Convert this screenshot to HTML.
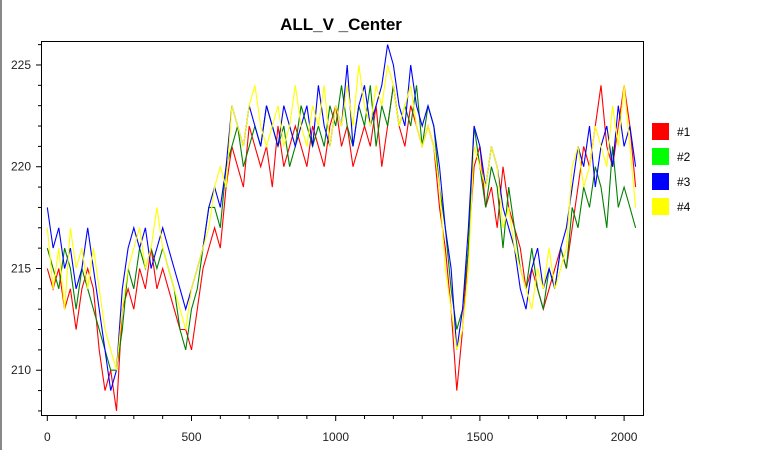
<!DOCTYPE html>
<html><head><meta charset="utf-8"><style>
body{margin:0;background:#fff;width:758px;height:450px;overflow:hidden;font-family:"Liberation Sans",sans-serif}
</style></head><body>
<svg id="chart" width="758" height="450" xmlns="http://www.w3.org/2000/svg">
<rect x="0" y="0" width="2" height="450" fill="#888"/>
<text x="341" y="30" text-anchor="middle" font-size="17" font-weight="bold" fill="#000">ALL_V _Center</text>
<g id="plot"></g>
<rect x="41.5" y="41.5" width="602" height="374" fill="none" stroke="#000" stroke-width="1"/>
<g id="axes"></g>
<g id="legend"></g>
</svg>
<script>
const seriesNames=["#1","#2","#3","#4"];
const seriesColors=["#ff0000","#008000","#0000ff","#ffff00"];
const legendColors=["#ff0000","#00ff00","#0000ff","#ffff00"];
const xStep=20;
const xTicks=[0,500,1000,1500,2000];
const yTicks=[210,215,220,225];
const s1=[215,214,215,213,214,212,214,215,214,211,209,210,208,213,214,213,215,214,216,214,215,214,213,212,212,211,213,215,216,217,216,219,221,220,219,222,221,220,221,219,222,220,221,222,221,220,222,221,220,222,223,221,222,220,221,222,221,223,220,222,224,222,221,223,222,221,222,221,218,216,213,209,212,216,220,221,218,219,217,220,218,217,216,214,215,214,213,214,215,216,215,217,219,221,220,222,224,221,220,222,224,222,219];
const s2=[216,215,214,216,215,213,215,214,213,212,211,210,210,212,215,214,216,215,216,215,216,215,214,212,211,213,214,216,218,218,217,220,221,222,220,221,222,221,223,222,221,222,220,221,223,222,221,222,221,223,222,224,222,221,223,222,224,221,223,222,224,222,223,222,224,221,223,222,219,217,214,212,213,216,222,220,218,220,219,216,219,217,215,214,216,214,213,215,214,216,215,218,217,219,218,220,219,217,221,218,219,218,217];
const s3=[218,216,217,215,216,214,215,217,215,213,211,209,210,214,216,217,216,217,215,216,217,216,215,214,213,214,215,216,218,219,218,220,223,222,221,223,222,221,223,222,221,223,222,221,222,223,221,224,222,221,223,222,225,221,223,224,222,223,224,226,225,223,222,225,223,222,223,222,220,217,215,211,213,217,222,221,219,221,220,218,217,216,214,213,215,216,214,215,214,216,217,219,221,220,222,219,221,222,220,223,221,222,220];
const s4=[217,214,216,213,217,215,216,214,216,214,212,211,210,213,215,216,217,215,216,218,216,215,214,213,212,214,215,216,217,219,220,219,223,222,221,223,224,222,221,222,223,221,222,224,222,221,223,222,224,221,223,222,224,222,225,223,222,224,223,225,224,222,223,224,222,221,222,221,219,215,213,211,212,215,221,220,219,221,220,217,218,216,215,214,213,215,214,216,214,215,216,220,221,219,220,222,221,220,223,221,224,221,218];
const allSeries=[s1,s2,s3,s4];

const X0=47.3, XS=144.2/500, YB=415, Y0=207.8, YS=20.35;
const xs=v=>X0+v*XS, ys=v=>YB-(v-Y0)*YS;
const NS="http://www.w3.org/2000/svg";
const plot=document.getElementById('plot'), axes=document.getElementById('axes'), legend=document.getElementById('legend');
function mk(t,a,p){const e=document.createElementNS(NS,t);for(const k in a)e.setAttribute(k,a[k]);p.appendChild(e);return e;}
allSeries.forEach((s,k)=>{
  const d=s.map((v,i)=>(i?'L':'M')+xs(i*xStep).toFixed(1)+','+ys(v).toFixed(1)).join('');
  const p=mk('path',{d:d,fill:'none',stroke:seriesColors[k],'stroke-width':1.1},plot);
  
  
});
for(let v=0;v<=2000;v+=100){
  const x=xs(v);const big=v%500===0;
  const t=mk('line',{x1:x,x2:x,y1:416,y2:big?421:419,stroke:'#000'},axes);
  
  
}
xTicks.forEach(v=>{
  const t=mk('text',{x:xs(v),y:441,'text-anchor':'middle','font-size':12,fill:'#222'},axes);t.textContent=v;
  
  
});
for(let v=208;v<=226;v++){
  const y=ys(v);if(y<42)continue;const big=v%5===0;
  const t=mk('line',{x1:big?36:38,x2:41,y1:y,y2:y,stroke:'#000'},axes);
  
  
}
yTicks.forEach(v=>{
  const t=mk('text',{x:31,y:ys(v)+4,'text-anchor':'end','font-size':12,fill:'#222'},axes);t.textContent=v;
  
  
});
seriesNames.forEach((n,k)=>{
  const y=123+k*25;
  const r=mk('rect',{x:652,y:y,width:17,height:17,fill:legendColors[k]},legend);
  
  
  const t=mk('text',{x:677,y:y+13,'font-size':12,fill:'#000'},legend);t.textContent=n;
  
  
});
</script>
</body></html>
